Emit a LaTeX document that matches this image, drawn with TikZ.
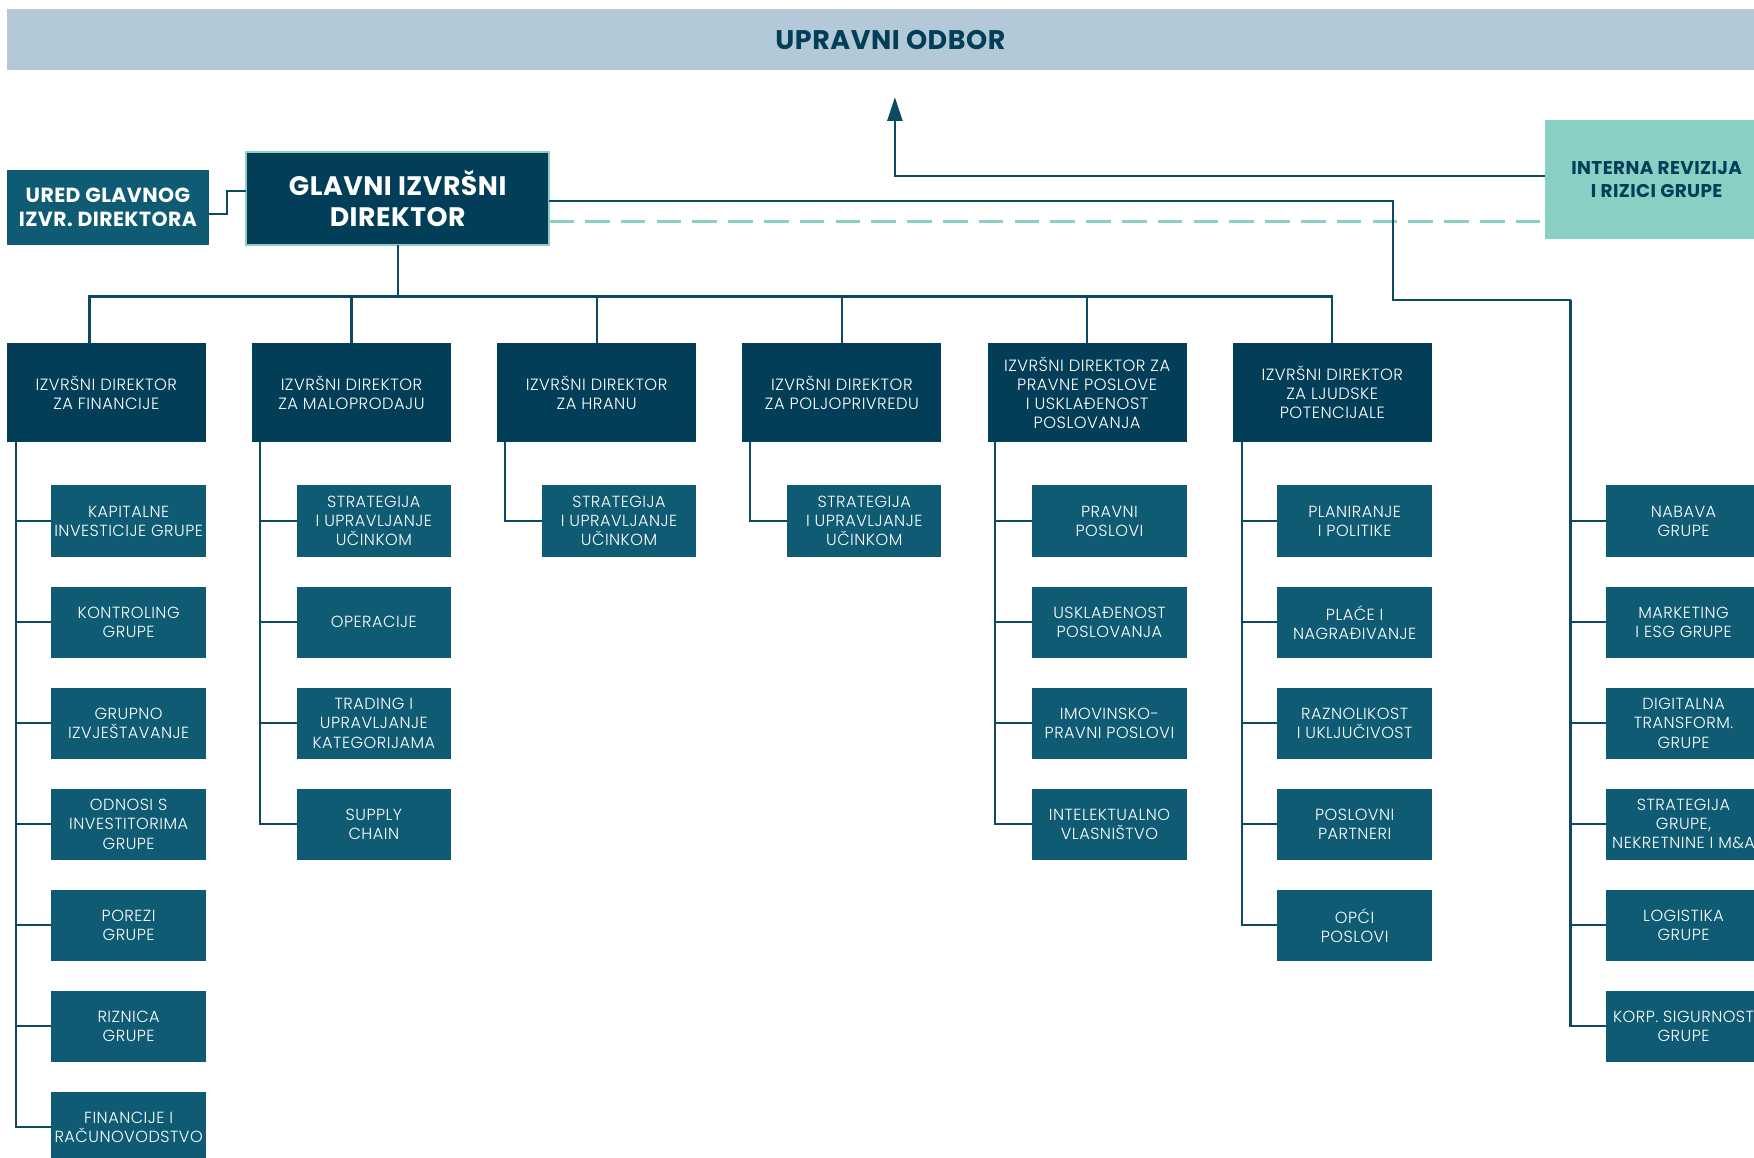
\documentclass[tikz,border=0pt]{standalone}
\usepackage{fontspec}
\setmainfont{Poppins}[LetterSpace=2]
\newfontfamily\lightfont{Poppins Light}[LetterSpace=3]
\usetikzlibrary{arrows.meta, positioning, calc}
\definecolor{navy}{HTML}{023E57}
\definecolor{petrol}{HTML}{0E5B73}
\definecolor{mint}{HTML}{8ACFC3}
\definecolor{haze}{HTML}{B4C9D7}
\definecolor{wire}{HTML}{0D4A62}

\begin{document}
\begin{tikzpicture}[
        boardbox/.style={fill=haze, text=navy, outer sep=0pt, minimum width=31.6cm, minimum height=1.1cm, font=\bfseries\fontsize{13.7}{15}\selectfont},
        ceobox/.style={fill=navy, draw=mint, line width=1.2pt, text=white, align=center, inner sep=0pt, outer sep=0pt, minimum width=5.42cm, minimum height=1.66cm, font=\bfseries\fontsize{13.6}{15.4}\selectfont},
        officebox/.style={fill=petrol, text=white, align=center, inner sep=0pt, outer sep=0pt, minimum width=3.62cm, minimum height=1.34cm, font=\bfseries\fontsize{10.4}{12.5}\selectfont},
        auditbox/.style={fill=mint, text=navy, align=center, inner sep=0pt, outer sep=0pt, minimum width=4cm, minimum height=2.14cm, font=\bfseries\fontsize{9.4}{11.4}\selectfont},
        exec/.style={fill=navy, text=white, align=center, inner sep=0pt, outer sep=0pt, minimum width=3.56cm, minimum height=1.76cm, font=\lightfont\fontsize{8.3}{9.7}\selectfont},
        unit/.style={fill=petrol, text=white, align=center, inner sep=0pt, outer sep=0pt, minimum width=2.76cm, minimum height=1.28cm, font=\lightfont\fontsize{8.2}{9.7}\selectfont},
        link/.style={draw=wire, line width=1.1pt},
        dashlink/.style={draw=mint, line width=1.4pt, dash pattern=on 0.44cm off 0.2cm},
        arrow/.style={-{Triangle[length=0.42cm, width=0.27cm]}, link},
        node distance=0.526cm
    ]
        \useasboundingbox (0,0) rectangle (31.36,-20.7);

        \node[boardbox, anchor=north west] (board) at (0.12,-0.16) {UPRAVNI ODBOR};
        \node[ceobox, anchor=north west] (ceo) at (4.4,-2.72) {GLAVNI IZVRŠNI\\DIREKTOR};
        \node[officebox, anchor=north west] (office) at (0.12,-3.04) {URED GLAVNOG\\IZVR. DIREKTORA};
        \node[auditbox, anchor=north west] (audit) at (27.62,-2.14) {INTERNA REVIZIJA\\I RIZICI GRUPE};

        % executive directors
        \node[exec, anchor=north west] (fin) at (0.12,-6.14) {IZVRŠNI DIREKTOR\\ZA FINANCIJE};
        \node[exec, right=0.824cm of fin] (retail) {IZVRŠNI DIREKTOR\\ZA MALOPRODAJU};
        \node[exec, right=0.824cm of retail] (food) {IZVRŠNI DIREKTOR\\ZA HRANU};
        \node[exec, right=0.824cm of food] (agri) {IZVRŠNI DIREKTOR\\ZA POLJOPRIVREDU};
        \node[exec, right=0.824cm of agri] (legal) {IZVRŠNI DIREKTOR ZA\\PRAVNE POSLOVE\\I USKLAĐENOST\\POSLOVANJA};
        \node[exec, right=0.824cm of legal] (hr) {IZVRŠNI DIREKTOR\\ZA LJUDSKE\\POTENCIJALE};

        % finance
        \node[unit, below left=0.78cm and 0cm of fin.south east] (capex) {KAPITALNE\\INVESTICIJE GRUPE};
        \node[unit, below=of capex] (control) {KONTROLING\\GRUPE};
        \node[unit, below=of control] (report) {GRUPNO\\IZVJEŠTAVANJE};
        \node[unit, below=of report] (investor) {ODNOSI S\\INVESTITORIMA\\GRUPE};
        \node[unit, below=of investor] (tax) {POREZI\\GRUPE};
        \node[unit, below=of tax] (treasury) {RIZNICA\\GRUPE};
        \node[unit, below=of treasury] (account) {FINANCIJE I\\RAČUNOVODSTVO};

        % retail
        \node[unit, below left=0.78cm and 0cm of retail.south east] (retstrat) {STRATEGIJA\\I UPRAVLJANJE\\UČINKOM};
        \node[unit, below=of retstrat] (ops) {OPERACIJE};
        \node[unit, below=of ops] (trading) {TRADING I\\UPRAVLJANJE\\KATEGORIJAMA};
        \node[unit, below=of trading] (supply) {SUPPLY\\CHAIN};

        % food, agriculture
        \node[unit, below left=0.78cm and 0cm of food.south east] (foodstrat) {STRATEGIJA\\I UPRAVLJANJE\\UČINKOM};
        \node[unit, below left=0.78cm and 0cm of agri.south east] (agristrat) {STRATEGIJA\\I UPRAVLJANJE\\UČINKOM};

        % legal
        \node[unit, below left=0.78cm and 0cm of legal.south east] (lawaff) {PRAVNI\\POSLOVI};
        \node[unit, below=of lawaff] (comply) {USKLAĐENOST\\POSLOVANJA};
        \node[unit, below=of comply] (property) {IMOVINSKO-\\PRAVNI POSLOVI};
        \node[unit, below=of property] (ip) {INTELEKTUALNO\\VLASNIŠTVO};

        % people
        \node[unit, below left=0.78cm and 0cm of hr.south east] (policy) {PLANIRANJE\\I POLITIKE};
        \node[unit, below=of policy] (pay) {PLAĆE I\\NAGRAĐIVANJE};
        \node[unit, below=of pay] (diversity) {RAZNOLIKOST\\I UKLJUČIVOST};
        \node[unit, below=of diversity] (partners) {POSLOVNI\\PARTNERI};
        \node[unit, below=of partners] (general) {OPĆI\\POSLOVI};

        % group functions
        \node[unit, right=3.12cm of policy] (procure) {NABAVA\\GRUPE};
        \node[unit, below=of procure] (market) {MARKETING\\I ESG GRUPE};
        \node[unit, below=of market] (digital) {DIGITALNA\\TRANSFORM.\\GRUPE};
        \node[unit, below=of digital] (strategy) {STRATEGIJA\\GRUPE,\\NEKRETNINE I M\&A};
        \node[unit, below=of strategy] (logist) {LOGISTIKA\\GRUPE};
        \node[unit, below=of logist] (security) {KORP. SIGURNOST\\GRUPE};

        \coordinate (officeout) at ($(office.east)+(0,-0.11)$);
        \coordinate (ceoin) at ($(ceo.west)+(0,0.14)$);
        \coordinate (ceoout) at ($(ceo.east)+(0,-0.05)$);
        \coordinate (ceodash) at ($(ceo.east)+(0,-0.41)$);
        \coordinate (auditout) at ($(audit.west)+(0,0.07)$);
        \coordinate (boardin) at ($(board.south)+(0.08,-0.48)$);
        \coordinate (bus) at ($(ceo.south)+(0,-0.92)$);
        \coordinate (finin) at ($(fin.north west)+(1.48,0)$);
        \coordinate (bend) at (24.9,-5.36);
        \coordinate (grouprail) at (28.08,-5.36);
        \coordinate (finrail) at ($(fin.south west)+(0.16,0)$);
        \coordinate (retrail) at ($(retail.south west)+(0.14,0)$);
        \coordinate (foodrail) at ($(food.south west)+(0.14,0)$);
        \coordinate (agrirail) at ($(agri.south west)+(0.14,0)$);
        \coordinate (legalrail) at ($(legal.south west)+(0.14,0)$);
        \coordinate (hrrail) at ($(hr.south west)+(0.16,0)$);

        \draw[arrow] (auditout) -| (boardin);
        \draw[dashlink] (ceodash) -- (ceodash -| audit.west);
        \draw[link] (officeout) -- ++(0.32,0) |- (ceoin);
        \draw[link] (ceo.south) -- (bus);
        \draw[link] (finin) |- (bus) -| (hr.north);
        \draw[link] (retail.north) -- (retail.north |- bus);
        \draw[link] (food.north) -- (food.north |- bus);
        \draw[link] (agri.north) -- (agri.north |- bus);
        \draw[link] (legal.north) -- (legal.north |- bus);
        \draw[link] (ceoout) -| (bend) -- (grouprail);

        \draw[link] (finrail) |- (capex.west);
        \draw[link] (finrail) |- (control.west);
        \draw[link] (finrail) |- (report.west);
        \draw[link] (finrail) |- (investor.west);
        \draw[link] (finrail) |- (tax.west);
        \draw[link] (finrail) |- (treasury.west);
        \draw[link] (finrail) |- (account.west);

        \draw[link] (retrail) |- (retstrat.west);
        \draw[link] (retrail) |- (ops.west);
        \draw[link] (retrail) |- (trading.west);
        \draw[link] (retrail) |- (supply.west);

        \draw[link] (foodrail) |- (foodstrat.west);
        \draw[link] (agrirail) |- (agristrat.west);

        \draw[link] (legalrail) |- (lawaff.west);
        \draw[link] (legalrail) |- (comply.west);
        \draw[link] (legalrail) |- (property.west);
        \draw[link] (legalrail) |- (ip.west);

        \draw[link] (hrrail) |- (policy.west);
        \draw[link] (hrrail) |- (pay.west);
        \draw[link] (hrrail) |- (diversity.west);
        \draw[link] (hrrail) |- (partners.west);
        \draw[link] (hrrail) |- (general.west);

        \draw[link] (grouprail) |- (procure.west);
        \draw[link] (grouprail) |- (market.west);
        \draw[link] (grouprail) |- (digital.west);
        \draw[link] (grouprail) |- (strategy.west);
        \draw[link] (grouprail) |- (logist.west);
        \draw[link] (grouprail) |- (security.west);
    \end{tikzpicture}
\end{document}
